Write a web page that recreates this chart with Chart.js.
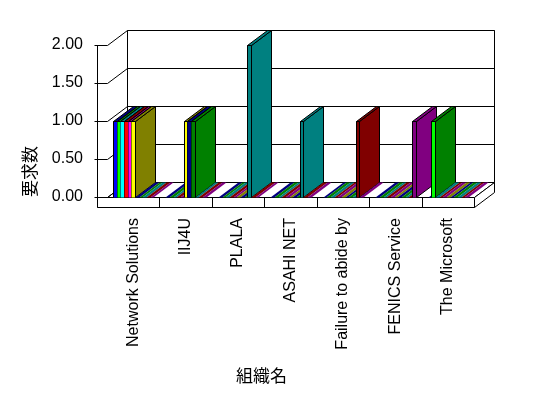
<!DOCTYPE html>
<html>
<head>
<meta charset="utf-8">
<script src="https://cdn.jsdelivr.net/npm/chart.js@4/dist/chart.umd.min.js"></script>
<style>
  body { margin: 0; background: #fff; }
  canvas { display: block; }
</style>
</head>
<body>
<canvas id="barChart" width="548" height="398"></canvas>
<script>
// 組織ごとの要求数 (3D 風の棒グラフ)
const categories = ['Network Solutions', 'IIJ4U', 'PLALA', 'ASAHI NET', 'Failure to abide by', 'FENICS Service', 'The Microsoft'];
const seriesNames = ['系列1', '系列2', '系列3', '系列4', '系列5', '系列6', '系列7', '系列8', '系列9', '系列10', '系列11'];
const series1  = [1, 0, 0, 0, 0, 0, 0];
const series2  = [1, 0, 0, 0, 0, 0, 1];
const series3  = [1, 0, 0, 0, 0, 0, 0];
const series4  = [1, 0, 0, 0, 0, 0, 0];
const series5  = [1, 0, 0, 0, 0, 0, 0];
const series6  = [1, 1, 0, 0, 0, 0, 0];
const series7  = [0, 1, 0, 0, 0, 0, 0];
const series8  = [0, 1, 0, 0, 0, 0, 0];
const series9  = [0, 0, 2, 1, 0, 0, 0];
const series10 = [0, 0, 0, 0, 1, 0, 0];
const series11 = [0, 0, 0, 0, 0, 1, 0];
const yTicks = [0, 0.5, 1, 1.5, 2];
const yTitle = '要求数';
const xTitle = '組織名';

const allSeries = [series1, series2, series3, series4, series5, series6, series7, series8, series9, series10, series11];
const frontColors = ['#0000ff', '#00ff00', '#00ffff', '#ff0000', '#ff00ff', '#ffff00', '#000080', '#008000', '#008080', '#800000', '#800080'];
const darkColors  = ['#000080', '#008000', '#008080', '#800000', '#800080', '#808000', '#000080', '#008000', '#008080', '#800000', '#800080'];

const DX = 20, DY = -15;   // 奥行き
const SLAB = 10;           // 床の厚み
const AXIS_GAP = 10;       // 軸線と壁の間

function poly(ctx, pts, fill, stroke) {
    ctx.beginPath();
    ctx.moveTo(pts[0][0], pts[0][1]);
    for (let i = 1; i < pts.length; i++) ctx.lineTo(pts[i][0], pts[i][1]);
    ctx.closePath();
    if (fill) { ctx.fillStyle = fill; ctx.fill(); }
    if (stroke) { ctx.strokeStyle = stroke; ctx.stroke(); }
}

const threeD = {
    id: 'threeD',
    beforeDatasetsDraw(chart) {
        const { ctx, chartArea: a, scales: { x, y } } = chart;
        const L = a.left + 0.5, R = a.right + 0.5, T = a.top + 0.5, B = a.bottom + 0.5;
        const ax = L - AXIS_GAP;
        ctx.save();
        ctx.lineWidth = 1;

        // 壁
        poly(ctx, [[L, T], [L + DX, T + DY], [L + DX, B + DY], [L, B]], '#fff', null);
        poly(ctx, [[L + DX, T + DY], [R + DX, T + DY], [R + DX, B + DY], [L + DX, B + DY]], '#fff', '#000');
        // 床
        poly(ctx, [[L, B], [R, B], [R + DX, B + DY], [L + DX, B + DY]], '#fff', '#000');
        // 床の厚み
        poly(ctx, [[ax, B], [R, B], [R, B + SLAB], [ax, B + SLAB]], '#fff', '#000');
        poly(ctx, [[R, B], [R + DX, B + DY], [R + DX, B + DY + SLAB], [R, B + SLAB]], '#fff', '#000');

        // 目盛線
        ctx.strokeStyle = '#000';
        yTicks.forEach(v => {
            const py = Math.round(y.getPixelForValue(v)) + 0.5;
            ctx.beginPath();
            ctx.moveTo(ax - 3, py);
            ctx.lineTo(L, py);
            ctx.lineTo(L + DX, py + DY);
            ctx.lineTo(R + DX, py + DY);
            ctx.stroke();
        });
        // 軸線
        ctx.beginPath();
        ctx.moveTo(ax, T);
        ctx.lineTo(ax, B + SLAB);
        ctx.stroke();
        // 項目の区切り
        const half = (x.getPixelForValue(1) - x.getPixelForValue(0)) / 2;
        for (let i = 1; i < categories.length; i++) {
            const px = Math.round(x.getPixelForValue(i) - half) + 0.5;
            ctx.beginPath();
            ctx.moveTo(px, B);
            ctx.lineTo(px, B + SLAB);
            ctx.stroke();
        }

        // 棒
        for (let i = 0; i < categories.length; i++) {
            chart.data.datasets.forEach((ds, d) => {
                const bar = chart.getDatasetMeta(d).data[i];
                const xl = Math.round(bar.x - bar.width / 2) + 0.5;
                const xr = Math.round(bar.x + bar.width / 2) + 0.5;
                const top = Math.round(bar.y) + 0.5;
                const base = Math.round(bar.base) + 0.5;
                const dark = ds.sideColor;
                if (ds.data[i] === 0) {
                    poly(ctx, [[xl, base], [xr, base], [xr + DX, base + DY], [xl + DX, base + DY]], dark, null);
                    return;
                }
                poly(ctx, [[xl, top], [xr, top], [xr, base], [xl, base]], ds.backgroundColor, null);
                poly(ctx, [[xr, top], [xr + DX, top + DY], [xr + DX, base + DY], [xr, base]], dark, '#000');
                poly(ctx, [[xl, top], [xr, top], [xr + DX, top + DY], [xl + DX, top + DY]], dark, '#000');
                ctx.beginPath();
                const prev = d > 0 ? chart.data.datasets[d - 1].data[i] : 0;
                if (prev === 0) { ctx.moveTo(xl, base); ctx.lineTo(xl, top); }
                ctx.moveTo(xl, top); ctx.lineTo(xr, top);
                ctx.strokeStyle = '#000';
                ctx.stroke();
            });
        }
        ctx.restore();
        return false;
    },
    afterDraw(chart) {
        const { ctx, chartArea: a } = chart;
        ctx.save();
        ctx.font = '17px "Noto Sans CJK JP"';
        ctx.fillStyle = '#000';
        ctx.textAlign = 'center';
        ctx.textBaseline = 'middle';
        ctx.fillText(xTitle, (a.left + a.right) / 2 - 29, chart.height - 22);
        ctx.restore();
    }
};

const ctx = document.getElementById('barChart').getContext('2d');
new Chart(ctx, {
    type: 'bar',
    data: {
        labels: categories,
        datasets: allSeries.map((s, d) => ({
            label: seriesNames[d],
            data: s,
            backgroundColor: frontColors[d],
            sideColor: darkColors[d],
            categoryPercentage: 0.77,
            barPercentage: 1
        }))
    },
    options: {
        responsive: false,
        animation: false,
        devicePixelRatio: 1,
        layout: { padding: { left: 0, right: 74, top: 45, bottom: 0 } },
        plugins: { legend: { display: false }, tooltip: { enabled: false } },
        scales: {
            x: {
                grid: { display: false, drawTicks: false },
                border: { display: false },
                ticks: {
                    minRotation: 90, maxRotation: 90, autoSkip: false, padding: 21,
                    color: '#000', font: { family: '"Liberation Sans", Arial', size: 16 }
                },
                afterFit: s => { s.height = 201; s.paddingLeft = 0; s.paddingRight = 0; }
            },
            y: {
                min: 0, max: 2,
                grid: { display: false, drawTicks: false },
                border: { display: false },
                afterBuildTicks: s => { s.ticks = yTicks.map(v => ({ value: v })); },
                ticks: {
                    padding: 24, color: '#000',
                    font: { family: '"Liberation Sans", Arial', size: 16 },
                    callback: v => Number(v).toFixed(2)
                },
                title: {
                    display: true, text: yTitle, align: 'start', color: '#000',
                    padding: { top: 19, bottom: 0 },
                    font: { family: '"Noto Sans CJK JP"', size: 17 }
                },
                afterFit: s => { s.width = 107; s.paddingTop = 0; s.paddingBottom = 0; }
            }
        }
    },
    plugins: [threeD]
});
</script>
</body>
</html>
